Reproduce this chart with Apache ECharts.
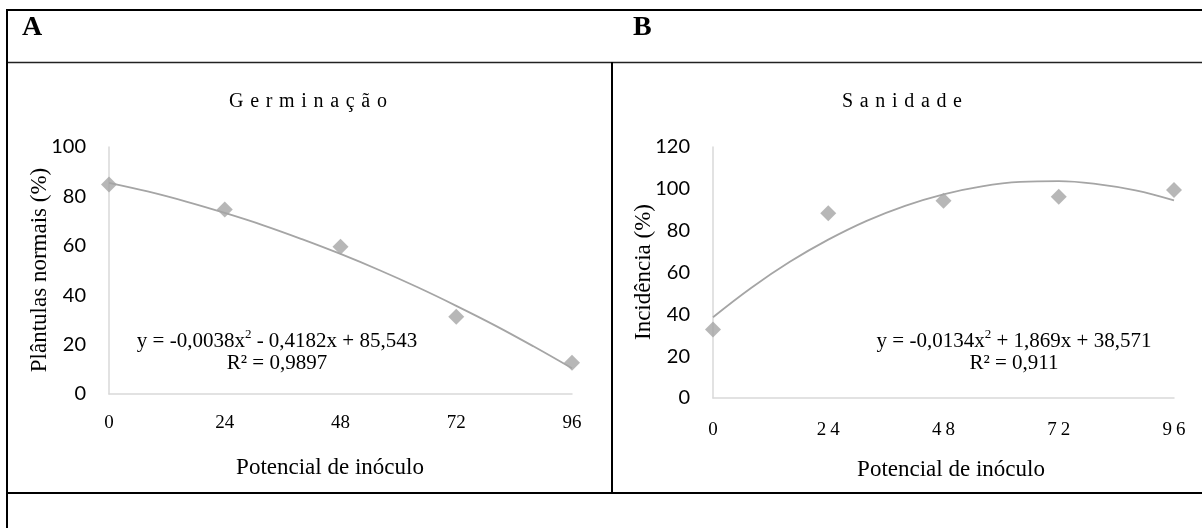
<!DOCTYPE html>
<html>
<head>
<meta charset="utf-8">
<script src="https://cdn.jsdelivr.net/npm/echarts@6/dist/echarts.min.js"></script>
<style>
html,body{margin:0;padding:0;background:#fff;}
#chart{width:1202px;height:528px;}
</style>
</head>
<body>
<div id="chart"></div>
<script>
// ---- data ----
var xTicks = [0, 24, 48, 72, 96];
var germX = [0, 24, 48, 72, 96];
var germY = [84.8, 74.7, 59.6, 31.3, 12.7];
var sanX = [0, 24, 48, 72, 96];
var sanY = [32.8, 88.3, 94.3, 96.2, 99.4];
// trendline values
var trendX = [0, 8, 16, 24, 32, 40, 48, 56, 64, 72, 80, 88, 96];
var germTrend = [85.5, 82.0, 77.9, 73.3, 68.3, 62.7, 56.7, 50.2, 43.2, 35.7, 27.8, 19.3, 10.4];
var sanTrend = [38.6, 52.7, 65.1, 75.7, 84.7, 91.9, 97.4, 101.2, 103.3, 103.7, 102.3, 99.3, 94.5];
var panelLabels = ['A', 'B'];
var titles = ['Germinação', 'Sanidade'];
var yNames = ['Plântulas normais (%)', 'Incidência (%)'];
var xName = 'Potencial de inóculo';
var eqGerm = ['y = -0,0038x', '2', ' - 0,4182x + 85,543', 'R² = 0,9897'];
var eqSan = ['y = -0,0134x', '2', ' + 1,869x + 38,571', 'R² = 0,911'];

function pairs(xs, ys) { return xs.map(function (x, i) { return [x, ys[i]]; }); }
function spaced(s, sep) { return s.split('').join(sep); }

var SERIF = '"Liberation Serif", "Times New Roman", serif';
var SANS = 'Lato, "Liberation Sans", sans-serif';
var GRAY = '#a5a5a5';
var AXIS = '#d9d9d9';

var chart = echarts.init(document.getElementById('chart'), null, {renderer: 'canvas'});

function xAxisCfg(gi, spacedLabels, margin) {
  return {
    type: 'value', gridIndex: gi, min: 0, max: 96, interval: 24,
    axisLine: {show: true, lineStyle: {color: AXIS, width: 1.5}},
    axisTick: {show: false}, splitLine: {show: false},
    axisLabel: {
      margin: margin, color: '#000', fontFamily: SERIF, fontSize: 19,
      formatter: function (v) { return spacedLabels ? spaced(String(v), '\u2009') : String(v); }
    }
  };
}
function yAxisCfg(gi, max) {
  return {
    type: 'value', gridIndex: gi, min: 0, max: max, interval: 20,
    axisLine: {show: true, lineStyle: {color: AXIS, width: 1.5}},
    axisTick: {show: false}, splitLine: {show: false},
    axisLabel: {margin: 23, color: '#000', fontFamily: SANS, fontSize: 20}
  };
}

function eqText(x, y, eq) {
  return [{
    type: 'text', x: x, y: y,
    style: {
      text: '{t|' + eq[0] + '}{s|' + eq[1] + '}{t|' + eq[2] + '}',
      align: 'center', verticalAlign: 'middle',
      rich: {
        t: {fontFamily: SERIF, fontSize: 21, fill: '#000', lineHeight: 24, verticalAlign: 'bottom'},
        s: {fontFamily: SERIF, fontSize: 13, fill: '#000', lineHeight: 24, verticalAlign: 'top', padding: [0, 0, 9, 0]}
      }
    }
  }, {
    type: 'text', x: x, y: y + 23,
    style: {text: eq[3], fontFamily: SERIF, fontSize: 21, fill: '#000', align: 'center', verticalAlign: 'middle'}
  }];
}

var frame = [
  {type: 'line', shape: {x1: 6, y1: 10, x2: 1202, y2: 10}, style: {stroke: '#000', lineWidth: 2}},
  {type: 'line', shape: {x1: 6, y1: 62.5, x2: 1202, y2: 62.5}, style: {stroke: '#222', lineWidth: 1.5}},
  {type: 'line', shape: {x1: 612, y1: 62, x2: 612, y2: 493}, style: {stroke: '#000', lineWidth: 2}},
  {type: 'line', shape: {x1: 6, y1: 493, x2: 1202, y2: 493}, style: {stroke: '#000', lineWidth: 2}},
  {type: 'line', shape: {x1: 7, y1: 9, x2: 7, y2: 528}, style: {stroke: '#000', lineWidth: 2}}
];

var texts = [
  {type: 'text', x: 22, y: 28, style: {text: panelLabels[0], fontFamily: SERIF, fontWeight: 'bold', fontSize: 28, fill: '#000', verticalAlign: 'middle'}},
  {type: 'text', x: 633, y: 28, style: {text: panelLabels[1], fontFamily: SERIF, fontWeight: 'bold', fontSize: 28, fill: '#000', verticalAlign: 'middle'}},
  {type: 'text', x: 308, y: 102, style: {text: spaced(titles[0], '\u2004'), fontFamily: SERIF, fontSize: 20, fill: '#000', align: 'center', verticalAlign: 'middle'}},
  {type: 'text', x: 902, y: 102, style: {text: spaced(titles[1], '\u2004'), fontFamily: SERIF, fontSize: 20, fill: '#000', align: 'center', verticalAlign: 'middle'}},
  {type: 'text', x: 330, y: 468, style: {text: xName, fontFamily: SERIF, fontSize: 23, fill: '#000', align: 'center', verticalAlign: 'middle'}},
  {type: 'text', x: 951, y: 470, style: {text: xName, fontFamily: SERIF, fontSize: 23, fill: '#000', align: 'center', verticalAlign: 'middle'}},
  {type: 'text', x: 40, y: 270, rotation: Math.PI / 2, style: {text: yNames[0], fontFamily: SERIF, fontSize: 23, fill: '#000', align: 'center', verticalAlign: 'middle'}},
  {type: 'text', x: 644, y: 272, rotation: Math.PI / 2, style: {text: yNames[1], fontFamily: SERIF, fontSize: 23, fill: '#000', align: 'center', verticalAlign: 'middle'}}
].concat(eqText(277, 340, eqGerm)).concat(eqText(1014, 340, eqSan));

chart.setOption({
  animation: false,
  backgroundColor: '#fff',
  grid: [
    {left: 109, right: 630, top: 147, bottom: 134},
    {left: 713, right: 28, top: 147, bottom: 130}
  ],
  xAxis: [xAxisCfg(0, false, 20), xAxisCfg(1, true, 23)],
  yAxis: [yAxisCfg(0, 100), yAxisCfg(1, 120)],
  series: [
    {type: 'line', xAxisIndex: 0, yAxisIndex: 0, data: pairs(trendX, germTrend), smooth: 0.4, symbol: 'none',
     lineStyle: {color: GRAY, width: 1.8}, z: 2},
    {type: 'scatter', xAxisIndex: 0, yAxisIndex: 0, data: pairs(germX, germY), symbol: 'diamond', symbolSize: [16, 16],
     itemStyle: {color: GRAY}, z: 3},
    {type: 'line', xAxisIndex: 1, yAxisIndex: 1, data: pairs(trendX, sanTrend), smooth: 0.4, symbol: 'none',
     lineStyle: {color: GRAY, width: 1.8}, z: 2},
    {type: 'scatter', xAxisIndex: 1, yAxisIndex: 1, data: pairs(sanX, sanY), symbol: 'diamond', symbolSize: [16, 16],
     itemStyle: {color: GRAY}, z: 3}
  ],
  graphic: frame.concat(texts)
});
</script>
</body>
</html>
